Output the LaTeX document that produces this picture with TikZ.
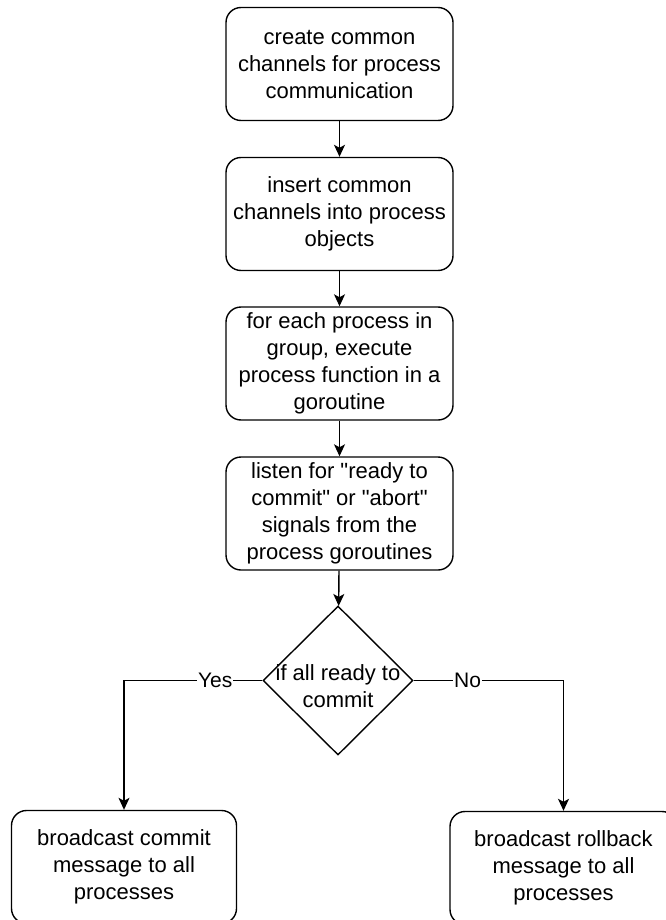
\documentclass[tikz,border=0pt]{standalone}
\usepackage{fontspec}
\setmainfont{Liberation Sans}[Ligatures=TeXOff]
\usetikzlibrary{shapes.geometric,arrows.meta}
\begin{document}
\begin{tikzpicture}[x=1pt,y=-1pt,
  box/.style={draw=black, line width=1.4pt, rounded corners=15pt, rectangle,
    minimum width=227pt, minimum height=113pt, align=center, inner sep=0pt,
    font=\fontsize{22}{27}\selectfont},
  dec/.style={draw=black, line width=1.4pt, diamond, minimum width=150pt,
    minimum height=149pt, inner sep=0pt},
  txt/.style={align=center, font=\fontsize{22}{27}\selectfont},
  lab/.style={fill=white, inner sep=1pt, font=\fontsize{21}{25}\selectfont},
  arr/.style={draw=black, line width=1.4pt, -{Stealth[length=12pt,width=11pt,inset=3pt]}}
]
\useasboundingbox (0,0) rectangle (665,920);
\node[box] (b1) at (339.5,64) {create common\\channels for process\\communication};
\node[box] (b2) at (339.5,214) {insert common\\channels into process\\objects};
\node[box] (b3) at (339.5,363.5) {for each process in\\group, execute\\process function in a\\goroutine};
\node[box] (b4) at (339.5,513.5) {listen for "ready to\\commit" or "abort"\\signals from the\\process goroutines};
\node[dec] (d) at (338,680.5) {};
\node[txt] (dt) at (338,686) {if all ready to\\commit};
\node[box, minimum width=225pt] (lb) at (124,867) {broadcast commit\\message to all\\processes};
\node[box] (rb) at (563.5,868) {broadcast rollback\\message to all\\processes};
\draw[arr] (b1) -- (b2);
\draw[arr] (b2) -- (b3);
\draw[arr] (b3) -- (b4);
\draw[arr] (b4) -- (d);
\draw[arr] (d.west) -- node[lab, pos=0.34]{Yes} (d.west -| lb) -- (lb.north);
\draw[arr] (d.east) -- node[lab, pos=0.36]{No} (d.east -| rb) -- (rb.north);
\end{tikzpicture}
\end{document}
